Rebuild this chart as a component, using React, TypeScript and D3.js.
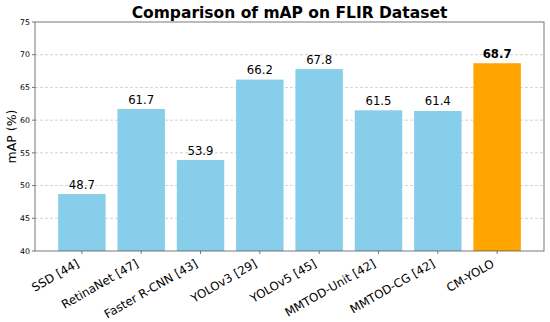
import React from "react";
import * as d3 from "d3";

const categories = ["SSD [44]", "RetinaNet [47]", "Faster R-CNN [43]", "YOLOv3 [29]", "YOLOv5 [45]", "MMTOD-Unit [42]", "MMTOD-CG [42]", "CM-YOLO"];
const values = [48.7, 61.7, 53.9, 66.2, 67.8, 61.5, 61.4, 68.7];
const yTicks = [40, 45, 50, 55, 60, 65, 70, 75];
const highlight = "CM-YOLO";

const W = 550, H = 322;
const left = 35, right = 544, top = 22, bottom = 251;

export default function App() {
  const n = categories.length;
  const x = d3.scaleLinear().domain([-0.4 - 0.05 * (n - 0.2), n - 0.6 + 0.05 * (n - 0.2)]).range([left, right]);
  const y = d3.scaleLinear().domain([40, 75]).range([bottom, top]);
  const bw = x(0.8) - x(0);
  return (
    <svg width={W} height={H} style={{ position: "absolute", left: 0, top: 0 }} fontFamily="DejaVu Sans">
      <rect width={W} height={H} fill="#fff" />
      {yTicks.slice(1, -1).map((t) => (
        <line key={t} x1={left} x2={right} y1={y(t)} y2={y(t)} stroke="#b0b0b0" strokeWidth={0.8} strokeDasharray="3,2" opacity={0.7} />
      ))}
      {categories.map((c, i) => (
        <rect key={c} x={x(i) - bw / 2} y={y(values[i])} width={bw} height={y(40) - y(values[i])} fill={c === highlight ? "#FFA500" : "#87CEEB"} />
      ))}
      {categories.map((c, i) => (
        <text key={c} x={x(i)} y={y(values[i]) - 5.5} textAnchor="middle" fontSize={11.7} fontWeight={c === highlight ? "bold" : "normal"} fill="#000">
          {values[i].toFixed(1)}
        </text>
      ))}
      <rect x={left} y={top} width={right - left} height={bottom - top} fill="none" stroke="#555" strokeWidth={0.8} />
      {yTicks.map((t) => (
        <g key={t}>
          <line x1={left - 3} x2={left} y1={y(t)} y2={y(t)} stroke="#555" strokeWidth={0.8} />
          <text x={left - 5} y={y(t)} dy="0.35em" textAnchor="end" fontSize={7.8} fill="#000">{t}</text>
        </g>
      ))}
      {categories.map((c, i) => (
        <g key={c}>
          <line x1={x(i)} x2={x(i)} y1={bottom} y2={bottom + 3} stroke="#555" strokeWidth={0.8} />
          <text transform={`translate(${x(i) - 2},${bottom + 15}) rotate(-30)`} textAnchor="end" fontSize={11.8} fill="#000">{c}</text>
        </g>
      ))}
      <text transform={`translate(16,${(top + bottom) / 2}) rotate(-90)`} textAnchor="middle" fontSize={12.5} fill="#000">mAP (%)</text>
      <text x={(left + right) / 2} y={18} textAnchor="middle" fontSize={15.5} fontWeight="bold" fill="#000">Comparison of mAP on FLIR Dataset</text>
    </svg>
  );
}
